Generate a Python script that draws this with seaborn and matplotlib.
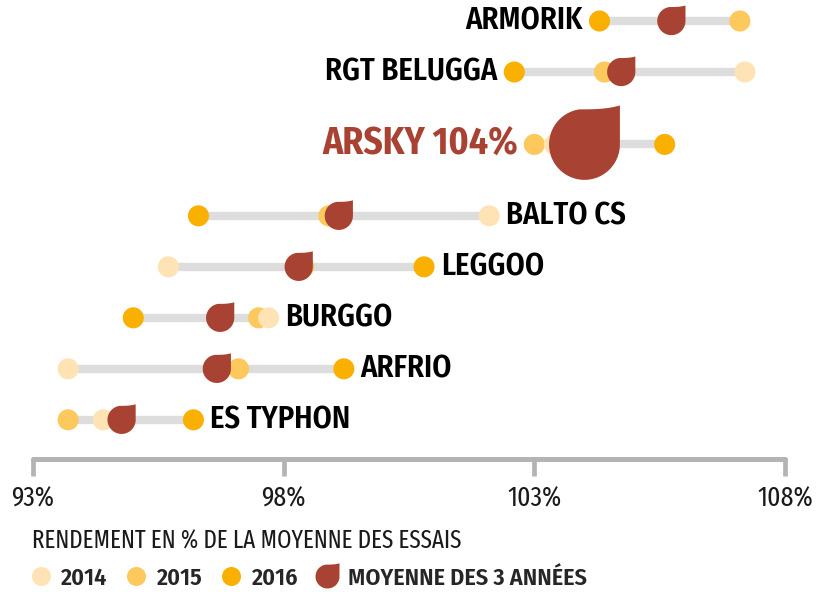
import matplotlib
matplotlib.use("Agg")
import matplotlib.pyplot as plt
from matplotlib.path import Path
from matplotlib.markers import MarkerStyle
from matplotlib.lines import Line2D
import seaborn as sns
import numpy as np
import pandas as pd

# données : rendement en % de la moyenne des essais
varieties = ['ARMORIK', 'RGT BELUGGA', 'ARSKY', 'BALTO CS', 'LEGGOO', 'BURGGO', 'ARFRIO', 'ES TYPHON']
y2014 = [105.8, 107.2, 103.4, 102.1, 95.7, 97.7, 93.7, 94.4]
y2015 = [107.1, 104.4, 103.0, 98.9, 98.4, 97.5, 97.1, 93.7]
y2016 = [104.3, 102.6, 105.6, 96.3, 100.8, 95.0, 99.2, 96.2]
label_side = ['left', 'left', 'left', 'right', 'right', 'right', 'right', 'right']
highlight = 'ARSKY'
x_ticks = [93, 98, 103, 108]

# mise en page : position verticale des lignes (ARSKY a plus de place)
row_pos = [0, 1, 2.42, 3.82, 4.82, 5.82, 6.82, 7.82]

colors = {'2014': '#FFE3B4', '2015': '#FDC85C', '2016': '#F9B000'}
red = '#A84232'
bar_gray = '#DCDDDC'
axis_gray = '#B4B4B4'

bold_font = ['Fira Sans Condensed', 'Liberation Sans', 'DejaVu Sans']
light_font = ['Fira Sans Extra Condensed', 'Fira Sans Condensed', 'Liberation Sans', 'DejaVu Sans']

df = pd.DataFrame({'variety': varieties, '2014': y2014, '2015': y2015, '2016': y2016, 'pos': row_pos})
df['mean'] = df[['2014', '2015', '2016']].mean(axis=1)
df['lo'] = df[['2014', '2015', '2016']].min(axis=1)
df['hi'] = df[['2014', '2015', '2016']].max(axis=1)

# 2016 d'abord, 2014 dessiné en dernier (au-dessus)
long_df = df.melt(id_vars=['variety', 'pos'], value_vars=['2016', '2015', '2014'],
                  var_name='year', value_name='value')

# forme de goutte : cercle avec coin pointu en haut à droite
t = np.linspace(np.pi * 0.55, 2 * np.pi, 70)
verts = [(np.cos(a), np.sin(a)) for a in t]
verts.append((1.0, 1.1))
x0 = np.cos(np.pi * 0.55)
for u in np.linspace(1, 0, 25)[1:]:
    # bord supérieur : remonte doucement vers la pointe
    verts.append((x0 + (1 - x0) * u, 0.99 + 0.11 * u ** 3))
verts.append(verts[0])
codes = [Path.MOVETO] + [Path.LINETO] * (len(verts) - 2) + [Path.CLOSEPOLY]
drop = MarkerStyle(Path(verts, codes))

sns.set_style('white')
plt.rcParams['font.family'] = bold_font

fig = plt.figure(figsize=(8.27, 5.92), dpi=100)
ax = fig.add_axes([33 / 827, 1 - 459 / 592, 752 / 827, 459 / 592])

ax.hlines(df['pos'], df['lo'], df['hi'], color=bar_gray, linewidth=6, zorder=1)
sns.scatterplot(data=long_df, x='value', y='pos', hue='year', palette=colors,
                s=230, linewidth=0, legend=False, ax=ax, zorder=2)
drop_sizes = np.where(df['variety'] == highlight, 3150, 500)
sns.scatterplot(data=df, x='mean', y='pos', marker=drop, s=drop_sizes, color=red,
                linewidth=0, legend=False, ax=ax, zorder=3)

for i, r in df.iterrows():
    is_hl = r['variety'] == highlight
    text = f"{r['variety']} {r['mean']:.0f}%" if is_hl else r['variety']
    if label_side[i] == 'left':
        xy, dx, ha = (r['lo'], r['pos']), -12, 'right'
    else:
        xy, dx, ha = (r['hi'], r['pos']), 12, 'left'
    ax.annotate(text, xy=xy, xytext=(dx, 0), textcoords='offset points',
                ha=ha, va='center', fontsize=27 if is_hl else 22,
                fontweight='bold' if is_hl else 'semibold', family=bold_font,
                color=red if is_hl else 'black')

ax.set_xlim(93, 108)
ax.set_ylim(8.588, -0.412)
ax.set_xticks(x_ticks)
ax.set_xticklabels([f'{v}%' for v in x_ticks], family=light_font, fontweight='normal')
ax.set_yticks([])
ax.set_xlabel('')
ax.set_ylabel('')
for side in ['top', 'left', 'right']:
    ax.spines[side].set_visible(False)
ax.spines['bottom'].set_color(axis_gray)
ax.spines['bottom'].set_linewidth(3.6)
ax.spines['bottom'].set_capstyle('round')
ax.tick_params(axis='x', bottom=True, direction='out', length=12, width=3.4, color=axis_gray,
               labelsize=20, pad=7, labelcolor='#1a1a1a')
ax.patch.set_alpha(0)

fig.text(32 / 827, 1 - 541 / 592, 'RENDEMENT EN % DE LA MOYENNE DES ESSAIS',
         fontsize=18, va='center', ha='left', color='#1a1a1a',
         family=light_font, fontweight='normal')

handles = [Line2D([], [], linestyle='none', marker='o', markersize=13.7,
                  markerfacecolor=colors[y], markeredgewidth=0) for y in ['2014', '2015', '2016']]
handles.append(Line2D([], [], linestyle='none', marker=drop, markersize=19,
                      markerfacecolor=red, markeredgewidth=0))
fig.legend(handles, ['2014', '2015', '2016', 'MOYENNE DES 3 ANNÉES'],
           loc='center left', bbox_to_anchor=(30 / 827, 1 - 578 / 592), ncol=4,
           frameon=False, borderpad=0, borderaxespad=0, handlelength=0.9,
           handletextpad=0.4, columnspacing=0.75,
           prop={'size': 17.3, 'weight': 'semibold', 'family': bold_font})

plt.savefig('out.png', dpi=100)
